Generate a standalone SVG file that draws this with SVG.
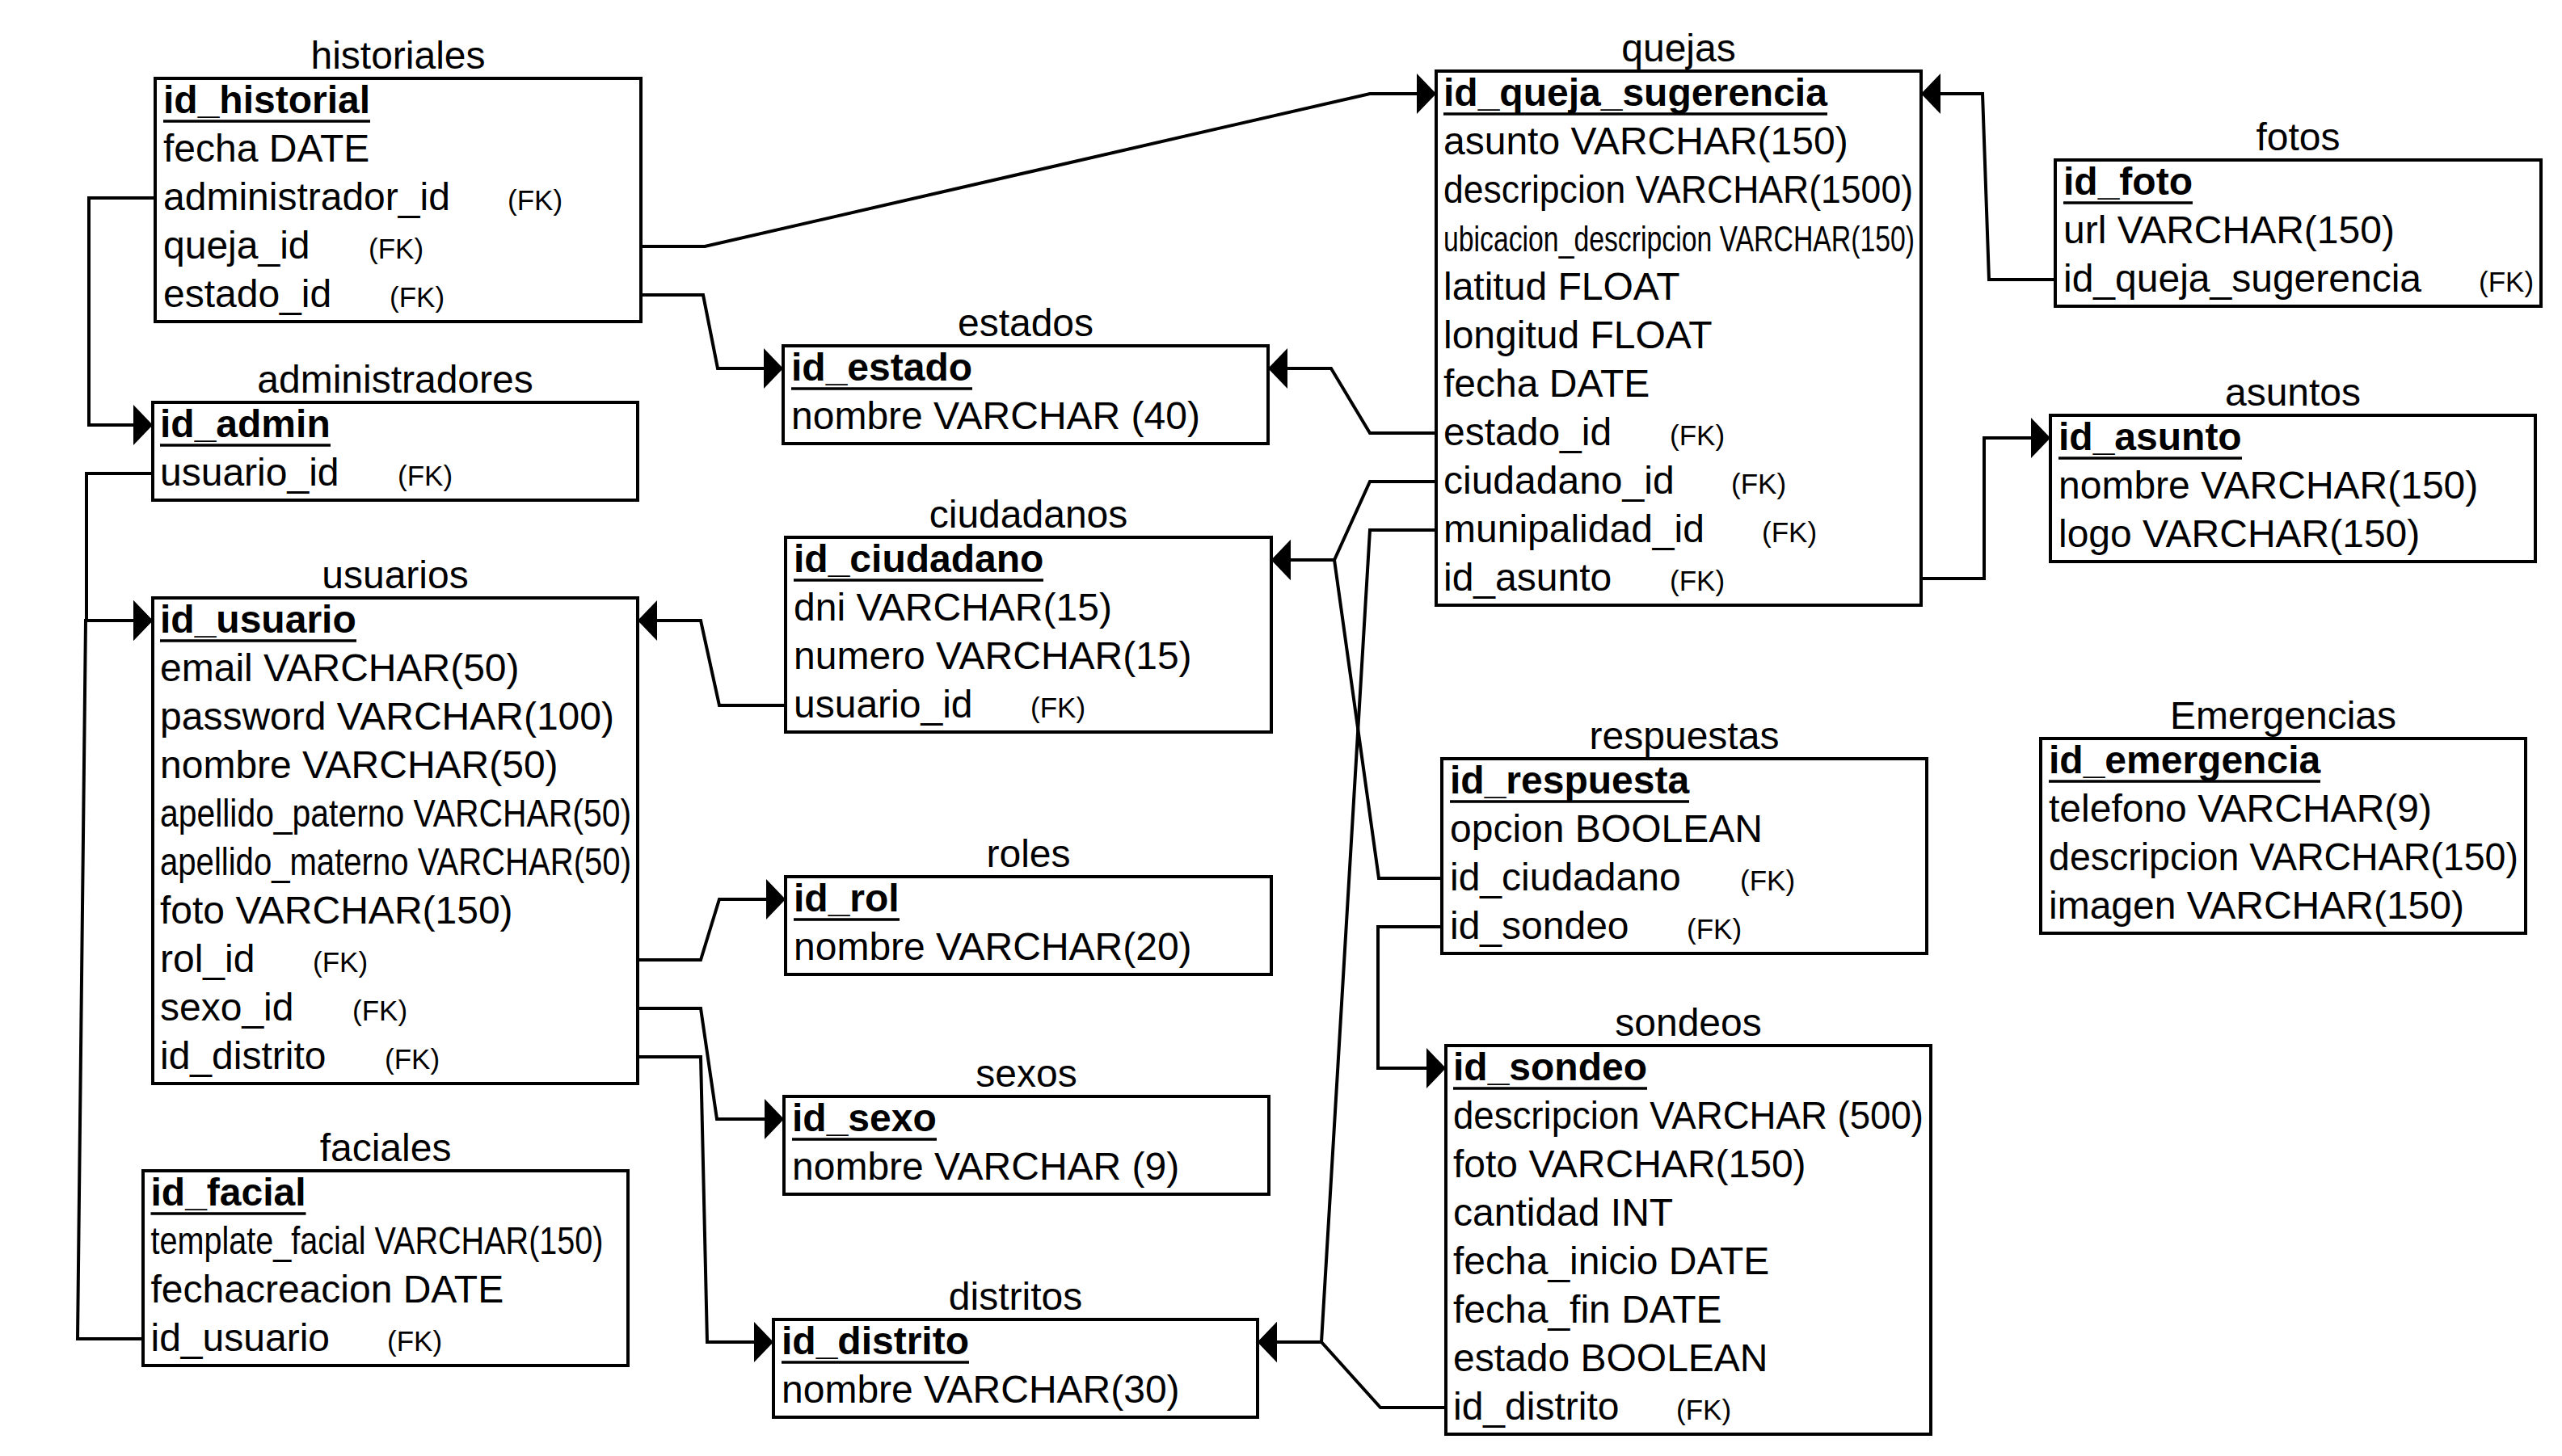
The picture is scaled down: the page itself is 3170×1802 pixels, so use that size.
<svg xmlns="http://www.w3.org/2000/svg" width="3170" height="1802" viewBox="0 0 3170 1802">
<style>
  text { font-family: "Liberation Sans", Arial, sans-serif; fill: #000; }
  .box { fill: #fff; stroke: #000; stroke-width: 4; }
  .title { font-size: 48px; text-anchor: middle; }
  .f { font-size: 48px; }
  .pk { font-size: 48px; font-weight: bold; }
  .ul { stroke: #000; stroke-width: 3.5; }
  .fk { font-size: 35px; }
  .sm { font-size: 44px; }
  .link { fill: none; stroke: #000; stroke-width: 4; marker-end: url(#arr); }
</style>
<defs>
  <marker id="arr" markerUnits="userSpaceOnUse" markerWidth="26" markerHeight="52" refX="24" refY="25" orient="auto">
    <path d="M0,0 L24,25 L0,50 Z" fill="#000"/>
  </marker>
</defs>
<rect width="3170" height="1802" fill="#fff"/>

<!-- relationships -->
<g id="connectors">
  <path class="link" d="M192,245 H110 V526 H189"/>
  <path class="link" d="M793,305 H872 L1695,116 H1777"/>
  <path class="link" d="M793,365 H870 L888,456 H969"/>
  <path class="link" d="M189,586 H107 V768 H189"/>
  <path class="link" d="M177,1657 H96 L106,768 H189"/>
  <path class="link" d="M972,873 H890 L867,768 H789"/>
  <path class="link" d="M789,1188 H867 L890,1113 H972"/>
  <path class="link" d="M789,1248 H867 L887,1385 H970"/>
  <path class="link" d="M789,1308 H867 L875,1661 H957"/>
  <path class="link" d="M1777,536 H1695 L1647,456 H1569"/>
  <path class="link" d="M1777,596 H1695 L1651,693 H1573"/>
  <path class="link" d="M1777,656 H1695 L1635,1661 H1556"/>
  <path class="link" d="M1784,1087 H1706 L1651,693 H1573"/>
  <path class="link" d="M1784,1147 H1705 V1322 H1789"/>
  <path class="link" d="M1789,1742 H1708 L1635,1661 H1556"/>
  <path class="link" d="M2543,346 H2461 L2453,116 H2377"/>
  <path class="link" d="M2377,716 H2455 V542 H2537"/>
</g>

<g id="historiales">
  <text class="title" x="492.5" y="85">historiales</text>
  <rect class="box" x="192" y="97" width="601" height="301"/>
  <text class="pk" x="202" y="140">id_historial</text><line class="ul" x1="202" y1="150" x2="458" y2="150"/>
  <text class="f" x="202" y="200">fecha DATE</text>
  <text class="f" x="202" y="260">administrador_id</text><text class="fk" x="628" y="260">(FK)</text>
  <text class="f" x="202" y="320">queja_id</text><text class="fk" x="456" y="320">(FK)</text>
  <text class="f" x="202" y="380">estado_id</text><text class="fk" x="482" y="380">(FK)</text>
</g>

<g id="administradores">
  <text class="title" x="489" y="486">administradores</text>
  <rect class="box" x="189" y="498" width="600" height="121"/>
  <text class="pk" x="198" y="541">id_admin</text><line class="ul" x1="198" y1="551" x2="409" y2="551"/>
  <text class="f" x="198" y="601">usuario_id</text><text class="fk" x="492" y="601">(FK)</text>
</g>

<g id="usuarios">
  <text class="title" x="489" y="728">usuarios</text>
  <rect class="box" x="189" y="740" width="600" height="601"/>
  <text class="pk" x="198" y="783">id_usuario</text><line class="ul" x1="198" y1="793" x2="441" y2="793"/>
  <text class="f" x="198" y="843">email VARCHAR(50)</text>
  <text class="f" x="198" y="903">password VARCHAR(100)</text>
  <text class="f" x="198" y="963">nombre VARCHAR(50)</text>
  <text class="f" x="198" y="1023" textLength="583" lengthAdjust="spacingAndGlyphs">apellido_paterno VARCHAR(50)</text>
  <text class="f" x="198" y="1083" textLength="583" lengthAdjust="spacingAndGlyphs">apellido_materno VARCHAR(50)</text>
  <text class="f" x="198" y="1143">foto VARCHAR(150)</text>
  <text class="f" x="198" y="1203">rol_id</text><text class="fk" x="387" y="1203">(FK)</text>
  <text class="f" x="198" y="1263">sexo_id</text><text class="fk" x="436" y="1263">(FK)</text>
  <text class="f" x="198" y="1323">id_distrito</text><text class="fk" x="476" y="1323">(FK)</text>
</g>

<g id="faciales">
  <text class="title" x="477" y="1437">faciales</text>
  <rect class="box" x="177" y="1449" width="600" height="241"/>
  <text class="pk" x="186.5" y="1492">id_facial</text><line class="ul" x1="186.5" y1="1502" x2="378.5" y2="1502"/>
  <text class="f" x="186.5" y="1552" textLength="560" lengthAdjust="spacingAndGlyphs">template_facial VARCHAR(150)</text>
  <text class="f" x="186.5" y="1612">fechacreacion DATE</text>
  <text class="f" x="186.5" y="1672">id_usuario</text><text class="fk" x="479" y="1672">(FK)</text>
</g>

<g id="estados">
  <text class="title" x="1269" y="416">estados</text>
  <rect class="box" x="969" y="428" width="600" height="121"/>
  <text class="pk" x="979" y="471">id_estado</text><line class="ul" x1="979" y1="481" x2="1203" y2="481"/>
  <text class="f" x="979" y="531">nombre VARCHAR (40)</text>
</g>

<g id="ciudadanos">
  <text class="title" x="1272.5" y="653">ciudadanos</text>
  <rect class="box" x="972" y="665" width="601" height="241"/>
  <text class="pk" x="982" y="708">id_ciudadano</text><line class="ul" x1="982" y1="718" x2="1291" y2="718"/>
  <text class="f" x="982" y="768">dni VARCHAR(15)</text>
  <text class="f" x="982" y="828">numero VARCHAR(15)</text>
  <text class="f" x="982" y="888">usuario_id</text><text class="fk" x="1275" y="888">(FK)</text>
</g>

<g id="roles">
  <text class="title" x="1272.5" y="1073">roles</text>
  <rect class="box" x="972" y="1085" width="601" height="121"/>
  <text class="pk" x="982" y="1128">id_rol</text><line class="ul" x1="982" y1="1138" x2="1113" y2="1138"/>
  <text class="f" x="982" y="1188">nombre VARCHAR(20)</text>
</g>

<g id="sexos">
  <text class="title" x="1270" y="1345">sexos</text>
  <rect class="box" x="970" y="1357" width="600" height="121"/>
  <text class="pk" x="980" y="1400">id_sexo</text><line class="ul" x1="980" y1="1410" x2="1159" y2="1410"/>
  <text class="f" x="980" y="1460">nombre VARCHAR (9)</text>
</g>

<g id="distritos">
  <text class="title" x="1256.5" y="1621">distritos</text>
  <rect class="box" x="957" y="1633" width="599" height="121"/>
  <text class="pk" x="967" y="1676">id_distrito</text><line class="ul" x1="967" y1="1686" x2="1199" y2="1686"/>
  <text class="f" x="967" y="1736">nombre VARCHAR(30)</text>
</g>

<g id="quejas">
  <text class="title" x="2077" y="76">quejas</text>
  <rect class="box" x="1777" y="88" width="600" height="661"/>
  <text class="pk" x="1786" y="131">id_queja_sugerencia</text><line class="ul" x1="1786" y1="141" x2="2261" y2="141"/>
  <text class="f" x="1786" y="191">asunto VARCHAR(150)</text>
  <text class="f" x="1786" y="251" textLength="581" lengthAdjust="spacingAndGlyphs">descripcion VARCHAR(1500)</text>
  <text class="sm" x="1786" y="311" textLength="583" lengthAdjust="spacingAndGlyphs">ubicacion_descripcion VARCHAR(150)</text>
  <text class="f" x="1786" y="371">latitud FLOAT</text>
  <text class="f" x="1786" y="431">longitud FLOAT</text>
  <text class="f" x="1786" y="491">fecha DATE</text>
  <text class="f" x="1786" y="551">estado_id</text><text class="fk" x="2066" y="551">(FK)</text>
  <text class="f" x="1786" y="611">ciudadano_id</text><text class="fk" x="2142" y="611">(FK)</text>
  <text class="f" x="1786" y="671">munipalidad_id</text><text class="fk" x="2180" y="671">(FK)</text>
  <text class="f" x="1786" y="731">id_asunto</text><text class="fk" x="2066" y="731">(FK)</text>
</g>

<g id="fotos">
  <text class="title" x="2843.5" y="186">fotos</text>
  <rect class="box" x="2543" y="198" width="601" height="181"/>
  <text class="pk" x="2553" y="241">id_foto</text><line class="ul" x1="2553" y1="251" x2="2713" y2="251"/>
  <text class="f" x="2553" y="301">url VARCHAR(150)</text>
  <text class="f" x="2553" y="361">id_queja_sugerencia</text><text class="fk" x="3067" y="361">(FK)</text>
</g>

<g id="asuntos">
  <text class="title" x="2837" y="502">asuntos</text>
  <rect class="box" x="2537" y="514" width="600" height="181"/>
  <text class="pk" x="2547" y="557">id_asunto</text><line class="ul" x1="2547" y1="567" x2="2774" y2="567"/>
  <text class="f" x="2547" y="617">nombre VARCHAR(150)</text>
  <text class="f" x="2547" y="677">logo VARCHAR(150)</text>
</g>

<g id="respuestas">
  <text class="title" x="2084" y="927">respuestas</text>
  <rect class="box" x="1784" y="939" width="600" height="241"/>
  <text class="pk" x="1794" y="982">id_respuesta</text><line class="ul" x1="1794" y1="992" x2="2090" y2="992"/>
  <text class="f" x="1794" y="1042">opcion BOOLEAN</text>
  <text class="f" x="1794" y="1102">id_ciudadano</text><text class="fk" x="2153" y="1102">(FK)</text>
  <text class="f" x="1794" y="1162">id_sondeo</text><text class="fk" x="2087" y="1162">(FK)</text>
</g>

<g id="sondeos">
  <text class="title" x="2089" y="1282">sondeos</text>
  <rect class="box" x="1789" y="1294" width="600" height="481"/>
  <text class="pk" x="1798" y="1337">id_sondeo</text><line class="ul" x1="1798" y1="1347" x2="2038" y2="1347"/>
  <text class="f" x="1798" y="1397" textLength="582" lengthAdjust="spacingAndGlyphs">descripcion VARCHAR (500)</text>
  <text class="f" x="1798" y="1457">foto VARCHAR(150)</text>
  <text class="f" x="1798" y="1517">cantidad INT</text>
  <text class="f" x="1798" y="1577">fecha_inicio DATE</text>
  <text class="f" x="1798" y="1637">fecha_fin DATE</text>
  <text class="f" x="1798" y="1697">estado BOOLEAN</text>
  <text class="f" x="1798" y="1757">id_distrito</text><text class="fk" x="2074" y="1757">(FK)</text>
</g>

<g id="emergencias">
  <text class="title" x="2825" y="902">Emergencias</text>
  <rect class="box" x="2525" y="914" width="600" height="241"/>
  <text class="pk" x="2535" y="957">id_emergencia</text><line class="ul" x1="2535" y1="967" x2="2871" y2="967"/>
  <text class="f" x="2535" y="1017">telefono VARCHAR(9)</text>
  <text class="f" x="2535" y="1077" textLength="581" lengthAdjust="spacingAndGlyphs">descripcion VARCHAR(150)</text>
  <text class="f" x="2535" y="1137">imagen VARCHAR(150)</text>
</g>
</svg>
